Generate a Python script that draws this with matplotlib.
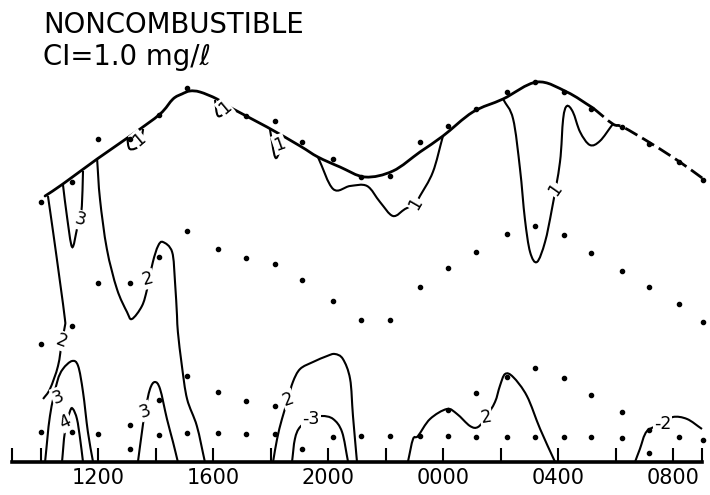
import numpy as np
import matplotlib
matplotlib.use("Agg")
import matplotlib.pyplot as plt
from matplotlib.path import Path
from matplotlib.patches import PathPatch

# ---------------- data (time in clock hours: 9 = 0900 day 1, 33 = 0900 day 2) ----------------
# observation times (one station profile per hour)
obs_times = [10.0, 11.1, 12.0, 13.1, 14.1, 15.1, 16.15, 17.15, 18.15, 19.1, 20.15, 21.15,
             22.15, 23.2, 24.15, 25.15, 26.2, 27.2, 28.2, 29.15, 30.2, 31.15, 32.2, 33.05]
# sample heights (arbitrary vertical units above the base line); None = no sample
surface_h = [260, 280, 323, 323, 347, 374, None, 346, 341, 320, 303, 285,
             286, 320, 336, 353, 370, 380, 370, 353, 335, 318, 300, 282]
upper_h = [118, 136, 179, 179, 205, 231, 213, 204, 198, 182, 161, 142,
           142, 175, 194, 210, 228, 236, 227, 209, 191, 175, 158, 140]
lower_h = [None, None, None, 37, 62, 86, 70, 61, 56, None, None, None,
           None, None, 52, 69, 85, 94, 84, 67, 50, 32, None, None]
bottom_h = [30, 30, 28, 13, 27, 29, 29, 28, 28, 13, 25, 26,
            26, 26, 26, 25, 25, 25, 25, 25, 24, 9, 25, 22]

# upper boundary (water surface)
surf_t = [10.15, 10.77, 11.96, 13.21, 14.15, 14.60, 14.91, 15.19, 15.54, 16.13, 16.69, 17.87,
          19.02, 19.64, 20.41, 21.28, 22.25, 23.19, 23.99, 25.03, 26.08, 27.26, 28.30, 29.21]
surf_h = [266, 278, 303, 328, 348, 363, 368, 371, 370, 363, 353, 335,
          316, 305, 295, 285, 291, 310, 326, 350, 363, 380, 370, 354]
surf_dash_t = [29.21, 29.90, 30.25, 31.26, 32.23, 33.10]
surf_dash_h = [354, 338, 335, 318, 300, 282]

# contour lines (isolines of concentration)
c1a_t = [13.00, 13.10, 13.45, 13.56]
c1a_h = [325, 313, 317, 333]
c1b_t = [16.06, 16.17, 16.51]
c1b_h = [362, 346, 351]
c1c_t = [17.97, 18.15, 18.32]
c1c_h = [333, 305, 310]
c1d_t = [19.64, 20.17, 20.76, 21.35, 21.80, 22.25, 22.67, 23.02, 23.19, 23.64, 23.99]
c1d_h = [305, 273, 276, 276, 260, 246, 253, 258, 266, 290, 326]
c1e_t = [26.08, 26.43, 26.67, 26.84, 27.02, 27.26, 27.54, 27.78, 28.06, 28.17, 28.30,
         28.51, 28.76, 29.10, 29.45, 29.90]
c1e_h = [363, 343, 293, 243, 210, 200, 220, 253, 300, 343, 356,
         350, 330, 317, 321, 338]
c3a_t = [10.77, 10.91, 11.09, 11.26, 11.36, 11.43, 11.47]
c3a_h = [278, 246, 215, 233, 245, 256, 291]
c2a_t = [10.25, 10.43, 10.67, 10.84, 10.84, 10.74, 10.60, 10.32, 10.08]
c2a_h = [266, 230, 180, 143, 136, 121, 96, 73, 63]
c2b_t = [11.96, 12.06, 12.30, 12.65, 13.00, 13.17, 13.52, 13.70, 13.90, 14.08, 14.25,
         14.57, 14.67, 14.74, 14.77, 14.91, 15.09, 15.43, 15.71]
c2b_h = [303, 263, 213, 173, 150, 143, 156, 173, 200, 216, 220,
         210, 180, 146, 130, 96, 63, 36, 0]
c3b_t = [10.15, 10.32, 10.57, 10.77, 11.09, 11.30, 11.47, 11.64, 11.82]
c3b_h = [0, 46, 80, 93, 101, 96, 70, 30, 0]
c4_t = [10.74, 10.84, 11.02, 11.12, 11.26, 11.37, 11.47]
c4_h = [0, 30, 51, 53, 43, 23, 0]
c3c_t = [13.38, 13.52, 13.63, 13.80, 13.97, 14.15, 14.39, 14.60, 14.77]
c3c_h = [0, 30, 51, 73, 80, 73, 43, 20, 0]
c2c_t = [18.08, 18.22, 18.39, 18.60, 18.77, 19.02, 19.47, 19.96, 20.23, 20.51, 20.76, 20.86, 21.00]
c2c_h = [0, 23, 43, 63, 80, 93, 100, 106, 108, 103, 83, 46, 0]
c3d_t = [18.74, 18.84, 19.02, 19.43, 19.78, 20.17, 20.48, 20.69]
c3d_h = [0, 23, 35, 43, 46, 43, 30, 0]
c2d_t = [22.77, 22.95, 23.12, 23.54, 24.13, 24.48, 24.93, 25.21, 25.49, 25.80, 25.97,
         26.15, 26.43, 26.91, 27.37, 27.89]
c2d_h = [0, 23, 26, 43, 53, 48, 36, 35, 45, 60, 76, 88, 85, 66, 33, 0]
c2e_t = [30.67, 30.84, 31.09, 31.64, 31.99, 32.48, 33.00]
c2e_h = [0, 13, 31, 38, 45, 43, 33]

contours = [(c1a_t, c1a_h), (c1b_t, c1b_h), (c1c_t, c1c_h), (c1d_t, c1d_h), (c1e_t, c1e_h),
            (c3a_t, c3a_h), (c2a_t, c2a_h), (c2b_t, c2b_h), (c3b_t, c3b_h), (c4_t, c4_h),
            (c3c_t, c3c_h), (c2c_t, c2c_h), (c3d_t, c3d_h), (c2d_t, c2d_h), (c2e_t, c2e_h)]

# contour labels: text, time, height, rotation
label_text = ["1", "1", "1", "1", "1", "3", "2", "2", "3", "4", "3", "2", "-3", "2", "-2"]
label_t = [13.42, 16.40, 18.30, 23.02, 27.90, 11.38, 10.74, 13.73, 10.60, 10.86, 13.63, 18.60, 19.40, 25.49, 31.62]
label_h = [322, 354, 318, 258, 272, 242, 121, 183, 65, 40, 51, 63, 43, 45, 38]
label_rot = [40, 40, 20, 60, 55, -15, -20, 15, 20, 25, 20, 20, 0, 10, 0]

tick_hours = [9, 10, 12, 14, 16, 18, 20, 22, 24, 26, 28, 30, 32, 33]
tick_labels = ["", "", "1200", "", "1600", "", "2000", "", "0000", "", "0400", "", "0800", ""]

title_lines = ["NONCOMBUSTIBLE", "CI=1.0 mg/\u2113"]


# ---------------- drawing ----------------
def smooth_path(t, h):
    p = np.column_stack([t, h]).astype(float)
    if len(p) < 3:
        return Path(p)
    ext = np.vstack([2 * p[0] - p[1], p, 2 * p[-1] - p[-2]])
    verts = [p[0]]
    codes = [Path.MOVETO]
    for i in range(1, len(ext) - 2):
        p0, p1, p2, p3 = ext[i - 1], ext[i], ext[i + 1], ext[i + 2]
        verts += [p1 + (p2 - p0) / 6.0, p2 - (p3 - p1) / 6.0, p2]
        codes += [Path.CURVE4] * 3
    return Path(verts, codes)


fig = plt.figure(figsize=(7.10, 4.95), dpi=100)
ax = fig.add_axes([12 / 710, 33 / 495, 690 / 710, 462 / 495])
ax.set_xlim(9, 33)
ax.set_ylim(0, 462)

lw_line = 1.5
ax.add_patch(PathPatch(smooth_path(surf_t, surf_h), fill=False, lw=2.0, color="black",
                       capstyle="round", clip_on=False))
ax.add_patch(PathPatch(smooth_path(surf_dash_t, surf_dash_h), fill=False, lw=2.0, color="black",
                       linestyle=(0, (5, 2)), clip_on=False))
for ct, chh in contours:
    ax.add_patch(PathPatch(smooth_path(ct, chh), fill=False, lw=lw_line, color="black",
                           clip_on=False))

for s, tt, hh, r in zip(label_text, label_t, label_h, label_rot):
    ax.text(tt, hh, s, fontsize=12.5, rotation=r, ha="center", va="center", zorder=5,
            bbox=dict(boxstyle="square,pad=0.05", fc="white", ec="none"))

for level in (surface_h, upper_h, lower_h, bottom_h):
    xs = [t for t, v in zip(obs_times, level) if v is not None]
    ys = [v for v in level if v is not None]
    ax.plot(xs, ys, "o", color="black", ms=3.0, zorder=6, clip_on=False)

for sp in ("top", "left", "right"):
    ax.spines[sp].set_visible(False)
ax.spines["bottom"].set_linewidth(2.6)
ax.set_yticks([])
ax.set_xticks(tick_hours)
ax.set_xticklabels(tick_labels, fontsize=15)
ax.tick_params(axis="x", direction="in", length=10, width=1.5, pad=4)

fig.text(43 / 710, 1 - 33 / 495, title_lines[0], fontsize=19.8, va="baseline", ha="left")
fig.text(43 / 710, 1 - 65 / 495, title_lines[1], fontsize=19.8, va="baseline", ha="left")

fig.savefig("out.png", dpi=100)
